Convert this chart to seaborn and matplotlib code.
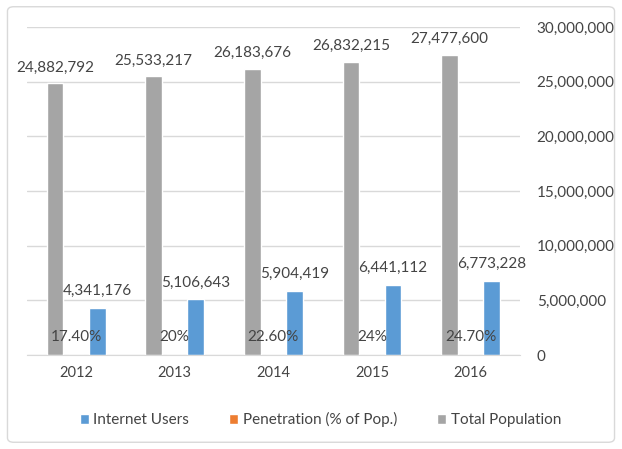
import pandas as pd
import matplotlib.pyplot as plt
import seaborn as sns
from matplotlib.patches import Patch, FancyBboxPatch
from matplotlib.ticker import FuncFormatter

# chart data
years = ['2012', '2013', '2014', '2015', '2016']
internet_users = [4341176, 5106643, 5904419, 6441112, 6773228]
penetration = [0.174, 0.20, 0.226, 0.24, 0.247]
penetration_labels = ['17.40%', '20%', '22.60%', '24%', '24.70%']
total_population = [24882792, 25533217, 26183676, 26832215, 27477600]

series_names = ['Internet Users', 'Penetration (% of Pop.)', 'Total Population']
colors = {'Internet Users': '#5B9BD5',
          'Penetration (% of Pop.)': '#ED7D31',
          'Total Population': '#A5A5A5'}
txt = '#444444'

df = pd.DataFrame({
    'year': years * 3,
    'series': ['Internet Users'] * 5 + ['Penetration (% of Pop.)'] * 5 + ['Total Population'] * 5,
    'value': internet_users + penetration + total_population,
})

sns.set_style('white')
plt.rcParams['font.family'] = ['Lato', 'DejaVu Sans']

fig = plt.figure(figsize=(6.22, 4.49), dpi=100)
ax = fig.add_axes([0.043, 0.209, 0.793, 0.731])

hue_order = ['Total Population', 'Penetration (% of Pop.)', 'Internet Users']
sns.barplot(data=df, x='year', y='value', hue='series', hue_order=hue_order,
            palette=colors, width=0.64, gap=0.2, ax=ax, legend=False,
            errorbar=None, saturation=1)

# data labels
for cont, name in zip(ax.containers, hue_order):
    if name == 'Total Population':
        ax.bar_label(cont, labels=[f'{v:,}' for v in total_population],
                     padding=6, fontsize=11, color=txt)
    elif name == 'Internet Users':
        ax.bar_label(cont, labels=[f'{v:,}' for v in internet_users],
                     padding=7, fontsize=11, color=txt)
    else:
        ax.bar_label(cont, labels=penetration_labels, padding=8,
                     fontsize=11, color=txt)

ax.set_ylim(0, 30000000)
ax.set_yticks(range(0, 30000001, 5000000))
ax.yaxis.tick_right()
ax.yaxis.set_major_formatter(FuncFormatter(lambda v, p: f'{int(v):,}'))
ax.tick_params(axis='y', length=0, pad=12, labelsize=11, labelcolor=txt)
ax.tick_params(axis='x', length=0, pad=8, labelsize=10.5, labelcolor=txt)
ax.grid(axis='y', color='#D9D9D9', linewidth=1)
ax.set_axisbelow(True)
for s in ['top', 'left', 'right']:
    ax.spines[s].set_visible(False)
ax.spines['bottom'].set_color('#D9D9D9')
ax.set_xlabel('')
ax.set_ylabel('')

handles = [Patch(facecolor=colors[n], label=n) for n in series_names]
fig.legend(handles=handles, loc='center', bbox_to_anchor=(0.515, 0.065), ncol=3,
           frameon=False, handlelength=0.6, handleheight=0.6, handletextpad=0.3,
           columnspacing=2.6, fontsize=11, labelcolor=txt)

# chart border
fig.patches.append(FancyBboxPatch((0.012, 0.015), 0.976, 0.97,
                                  boxstyle='round,pad=0,rounding_size=0.01',
                                  transform=fig.transFigure, fill=False,
                                  edgecolor='#D9D9D9', linewidth=1))

fig.savefig('out.png', dpi=100)
